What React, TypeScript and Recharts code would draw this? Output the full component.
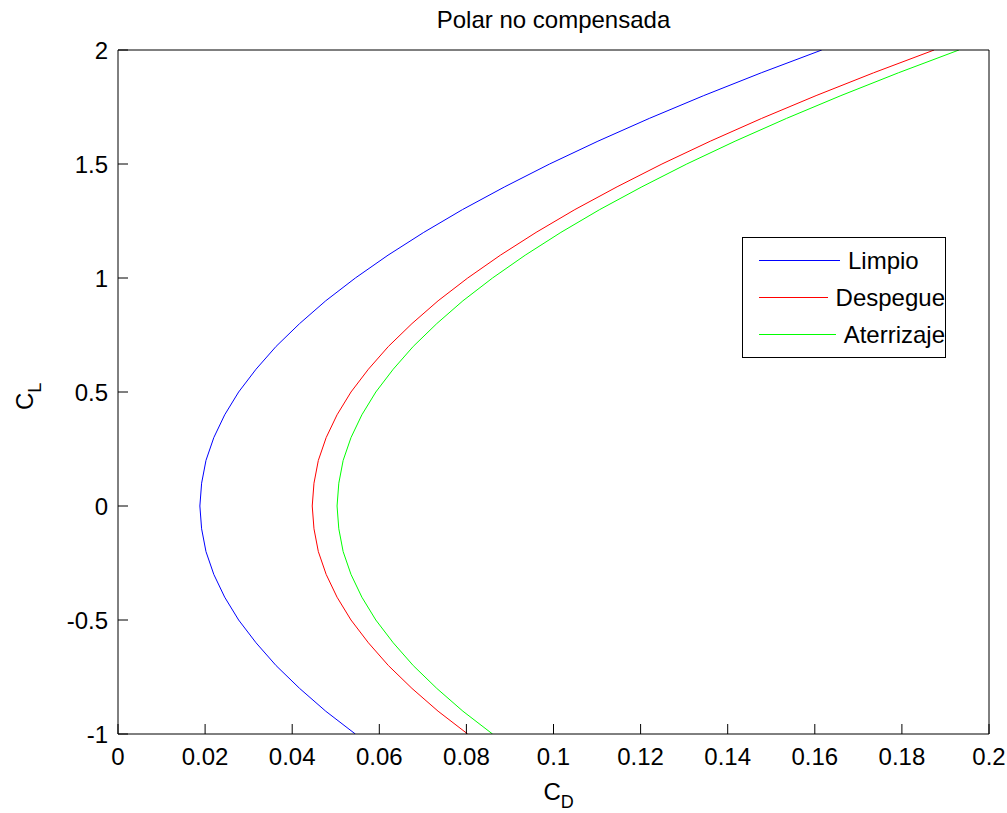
import React from "react"
import { LineChart, Line, XAxis, YAxis, Legend } from "recharts"

const FONT = '"Liberation Sans", Arial, Helvetica, sans-serif'

// lift coefficient samples (shared by the three configurations)
const CL = [
  -1, -0.9, -0.8, -0.7, -0.6, -0.5, -0.4, -0.3, -0.2, -0.1, 0, 0.1, 0.2, 0.3, 0.4, 0.5,
  0.6, 0.7, 0.8, 0.9, 1, 1.1, 1.2, 1.3, 1.4, 1.5, 1.6, 1.7, 1.8, 1.9, 2,
]

// drag coefficient
const CD_LIMPIO = [
  0.0545, 0.0477, 0.0417, 0.0363, 0.0317, 0.0277, 0.0245, 0.022, 0.0202, 0.0192, 0.0188,
  0.0192, 0.0202, 0.022, 0.0245, 0.0277, 0.0317, 0.0363, 0.0417, 0.0477, 0.0545, 0.062,
  0.0702, 0.0791, 0.0888, 0.0991, 0.1102, 0.122, 0.1345, 0.1477, 0.1616,
]
const CD_DESPEGUE = [
  0.0803, 0.0735, 0.0675, 0.0621, 0.0575, 0.0535, 0.0503, 0.0478, 0.046, 0.045, 0.0446,
  0.045, 0.046, 0.0478, 0.0503, 0.0535, 0.0575, 0.0621, 0.0675, 0.0735, 0.0803, 0.0878,
  0.096, 0.1049, 0.1146, 0.1249, 0.136, 0.1478, 0.1603, 0.1735, 0.1874,
]
const CD_ATERRIZAJE = [
  0.086, 0.0792, 0.0732, 0.0678, 0.0632, 0.0592, 0.056, 0.0535, 0.0517, 0.0507, 0.0503,
  0.0507, 0.0517, 0.0535, 0.056, 0.0592, 0.0632, 0.0678, 0.0732, 0.0792, 0.086, 0.0935,
  0.1017, 0.1106, 0.1203, 0.1306, 0.1417, 0.1535, 0.166, 0.1792, 0.1931,
]

const SERIES_NAMES = ["Limpio", "Despegue", "Aterrizaje"]

const X_TICKS = [0, 0.02, 0.04, 0.06, 0.08, 0.1, 0.12, 0.14, 0.16, 0.18, 0.2]
const Y_TICKS = [-1, -0.5, 0, 0.5, 1, 1.5, 2]

const toPoints = (cd: number[]) => CL.map((cl, i) => ({ cd: cd[i], cl }))

const limpio = toPoints(CD_LIMPIO)
const despegue = toPoints(CD_DESPEGUE)
const aterrizaje = toPoints(CD_ATERRIZAJE)

const tickStyle = { fill: "#000", fontSize: 24, fontFamily: FONT }

function XLabel(props: any) {
  const vb = props.viewBox || {}
  const cx = vb.x + vb.width / 2
  return (
    <text x={cx - 10} y={vb.y + 66} fill="#000" fontSize={24} fontFamily={FONT}>
      C<tspan fontSize={18} dy={8}>D</tspan>
    </text>
  )
}

function YLabel(props: any) {
  const vb = props.viewBox || {}
  const x = 33
  const y = vb.y + vb.height / 2 + 18
  return (
    <text x={x} y={y} fill="#000" fontSize={24} fontFamily={FONT} transform={`rotate(-90, ${x}, ${y})`}>
      C<tspan fontSize={18} dy={8}>L</tspan>
    </text>
  )
}

function PolarLegend({ payload }: any) {
  const items = [...(payload || [])].sort(
    (a: any, b: any) => SERIES_NAMES.indexOf(a.value) - SERIES_NAMES.indexOf(b.value)
  )
  return (
    <div
      style={{
        border: "1px solid #000",
        background: "#fff",
        width: 204,
        boxSizing: "border-box",
        padding: "4px 0",
        fontFamily: FONT,
      }}
    >
      {items.map((p: any) => (
        <div key={p.value} style={{ display: "flex", alignItems: "center", height: 37 }}>
          <svg width={97} height={37} style={{ display: "block" }}>
            <line x1={16} x2={97} y1={18.5} y2={18.5} stroke={p.color} strokeWidth={1} />
          </svg>
          <span style={{ marginLeft: 8, fontSize: 24, lineHeight: 1, color: "#000" }}>{p.value}</span>
        </div>
      ))}
    </div>
  )
}

export default function App() {
  return (
    <div
      style={{
        position: "absolute",
        left: 0,
        top: 0,
        width: 1007,
        height: 813,
        background: "#fff",
        fontFamily: FONT,
      }}
    >
      <LineChart width={1007} height={813} margin={{ top: 49, right: 17, bottom: 0, left: 0 }}>
        <XAxis
          xAxisId="b"
          type="number"
          dataKey="cd"
          domain={[0, 0.2]}
          ticks={X_TICKS}
          allowDataOverflow
          height={79}
          tickSize={-10}
          tickMargin={24}
          stroke="#000"
          tick={tickStyle}
          label={<XLabel />}
        />
        <XAxis
          xAxisId="t"
          orientation="top"
          type="number"
          dataKey="cd"
          domain={[0, 0.2]}
          ticks={X_TICKS}
          allowDataOverflow
          height={1}
          tickSize={-10}
          stroke="#000"
          tick={false}
        />
        <YAxis
          yAxisId="l"
          type="number"
          dataKey="cl"
          domain={[-1, 2]}
          ticks={Y_TICKS}
          allowDataOverflow
          width={118}
          tickSize={-10}
          tickMargin={20}
          stroke="#000"
          tick={tickStyle}
          label={<YLabel />}
        />
        <YAxis
          yAxisId="r"
          orientation="right"
          type="number"
          dataKey="cl"
          domain={[-1, 2]}
          ticks={Y_TICKS}
          allowDataOverflow
          width={1}
          tickSize={-10}
          stroke="#000"
          tick={false}
        />
        <Legend
          layout="vertical"
          align="center"
          verticalAlign="middle"
          content={<PolarLegend />}
          wrapperStyle={{ position: "absolute", left: 742, top: 237, width: 204 }}
        />
        <Line xAxisId="b" yAxisId="l" data={limpio} dataKey="cl" name="Limpio" type="linear" stroke="#0000ff" strokeWidth={1} dot={false} isAnimationActive={false} />
        <Line xAxisId="b" yAxisId="l" data={despegue} dataKey="cl" name="Despegue" type="linear" stroke="#ff0000" strokeWidth={1} dot={false} isAnimationActive={false} />
        <Line xAxisId="b" yAxisId="l" data={aterrizaje} dataKey="cl" name="Aterrizaje" type="linear" stroke="#00ff00" strokeWidth={1} dot={false} isAnimationActive={false} />
      </LineChart>
      <div
        style={{
          position: "absolute",
          left: 118,
          width: 871,
          top: 5,
          textAlign: "center",
          fontSize: 24,
          lineHeight: "30px",
          color: "#000",
        }}
      >
        Polar no compensada
      </div>
    </div>
  )
}
